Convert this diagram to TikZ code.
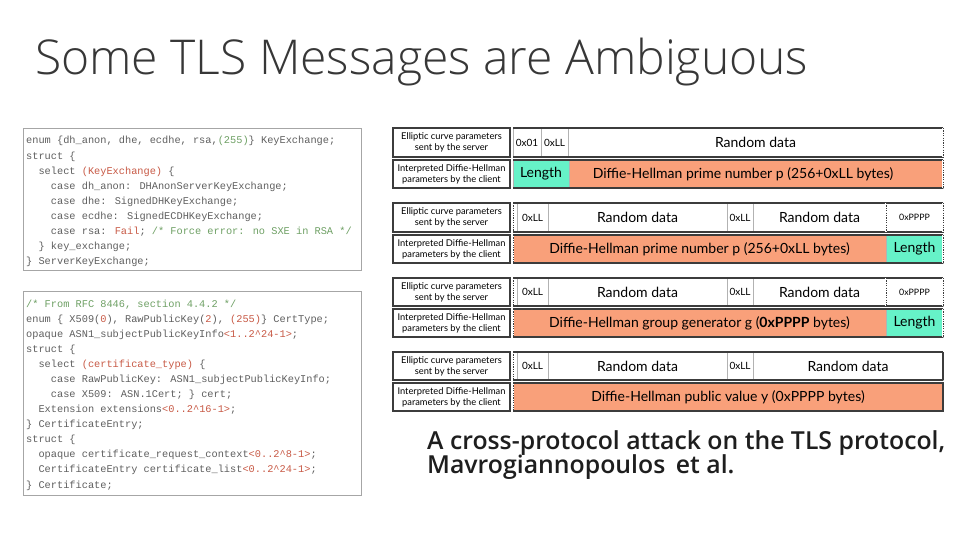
\documentclass[tikz,border=0pt]{standalone}
\usepackage{fontspec}
\setmainfont{Lato}
\newfontfamily\codefont{Liberation Mono}
\IfFontExistsTF{Open Sans Light}{\newfontfamily\titlefont{Open Sans Light}}{\newfontfamily\titlefont{Open Sans}}
\IfFontExistsTF{Open Sans SemiBold}{\newfontfamily\citefont{Open Sans SemiBold}}{%
  \IfFontExistsTF{Open Sans Semibold}{\newfontfamily\citefont{Open Sans Semibold}}{\newfontfamily\citefont{Open Sans}}}
\definecolor{dhorange}{RGB}{249,160,122}
\definecolor{dhgreen}{RGB}{102,242,200}
\definecolor{codetxt}{RGB}{95,95,95}
\definecolor{codered}{RGB}{200,90,70}
\definecolor{codegreen}{RGB}{110,160,100}
\definecolor{edgedark}{RGB}{60,60,60}
\newcommand\cR[1]{\textcolor{codered}{#1}}
\newcommand\cG[1]{\textcolor{codegreen}{#1}}
\newcommand\ia{\hspace*{12.36pt}}
\newcommand\ib{\hspace*{24.72pt}}
\newcommand\cellbox[7]{%
  \node[#6, anchor=north west, minimum width={(#3-#2)*1pt}, minimum height={(#5-#4)*1pt}] (#1) at (#2,#4) {#7};}
\tikzset{
  lbl/.style={draw=edgedark, line width=1.3pt, fill=white, inner sep=0pt, outer sep=0pt, align=center,
    font=\fontsize{9.3}{11}\selectfont},
  cw/.style={draw=gray!60, line width=0.6pt, fill=white, inner sep=0pt, outer sep=0pt},
  co/.style={cw, fill=dhorange},
  cg/.style={cw, fill=dhgreen},
  big/.style={font=\fontsize{14}{16}\selectfont},
  small/.style={font=\fontsize{10}{12}\selectfont},
  tiny/.style={font=\fontsize{8.8}{10}\selectfont},
  rowedge/.style={draw=edgedark, line width=1.1pt},
  dotedge/.style={draw=edgedark, line width=0.9pt, dash pattern=on 1.2pt off 1.2pt},
  whiteedge/.style={draw=white, line width=1.4pt},
  codeline/.style={anchor=base west, inner sep=0pt, text=codetxt, font=\codefont\fontsize{10.3}{12}\selectfont},
  codebox/.style={draw=gray!70, line width=0.8pt, fill=white},
}
\begin{document}
\begin{tikzpicture}[x=1pt,y=-1pt]
\path[fill=white,use as bounding box] (0,0) rectangle (960,540);

% Title
\node[anchor=base west, inner sep=0pt, text={rgb,255:red,55;green,55;blue,55}, font=\titlefont\fontsize{48}{50}\selectfont] (title) at (35,75) {Some TLS Messages are Ambiguous};

% Code block 1
\node[codebox, anchor=north west, minimum width=338pt, minimum height=142pt, inner sep=0pt] (box1) at (23,128) {};
\node[codeline] (a1) at (26,144.0) {enum \{dh\_anon, dhe, ecdhe, rsa,\cG{(255)}\} KeyExchange;};
\node[codeline] (a2) at (26,159.1) {struct \{};
\node[codeline] (a3) at (26,174.2) {\ia select \cR{(KeyExchange)} \{};
\node[codeline] (a4) at (26,189.3) {\ib case dh\_anon: DHAnonServerKeyExchange;};
\node[codeline] (a5) at (26,204.4) {\ib case dhe: SignedDHKeyExchange;};
\node[codeline] (a6) at (26,219.5) {\ib case ecdhe: SignedECDHKeyExchange;};
\node[codeline] (a7) at (26,234.6) {\ib case rsa: \cR{Fail}; \cG{/* Force error: no SXE in RSA */}};
\node[codeline] (a8) at (26,249.7) {\ia \} key\_exchange;};
\node[codeline] (a9) at (26,264.8) {\} ServerKeyExchange;};

% Code block 2
\node[codebox, anchor=north west, minimum width=338pt, minimum height=204pt, inner sep=0pt] (box2) at (23,291) {};
\node[codeline] (b1) at (26,307.0) {\cG{/* From RFC 8446, section 4.4.2 */}};
\node[codeline] (b2) at (26,322.1) {enum \{ X509(\cR{0}), RawPublicKey(\cR{2}), \cR{(255)}\} CertType;};
\node[codeline] (b3) at (26,337.2) {opaque ASN1\_subjectPublicKeyInfo\cR{<1..2\textasciicircum24-1>};};
\node[codeline] (b4) at (26,352.2) {struct \{};
\node[codeline] (b5) at (26,367.3) {\ia select \cR{(certificate\_type)} \{};
\node[codeline] (b6) at (26,382.4) {\ib case RawPublicKey: ASN1\_subjectPublicKeyInfo;};
\node[codeline] (b7) at (26,397.5) {\ib case X509: ASN.1Cert; \} cert;};
\node[codeline] (b8) at (26,412.6) {\ia Extension extensions\cR{<0..2\textasciicircum16-1>};};
\node[codeline] (b9) at (26,427.6) {\} CertificateEntry;};
\node[codeline] (b10) at (26,442.7) {struct \{};
\node[codeline] (b11) at (26,457.8) {\ia opaque certificate\_request\_context\cR{<0..2\textasciicircum8-1>};};
\node[codeline] (b12) at (26,472.9) {\ia CertificateEntry certificate\_list\cR{<0..2\textasciicircum24-1>};};
\node[codeline] (b13) at (26,488.0) {\} Certificate;};

% ---------- Diagram pair 1 ----------
\cellbox{l1}{393}{510}{128}{157}{lbl}{Elliptic curve parameters\\sent by the server}
\cellbox{r1a}{513}{541}{128}{157}{cw,small}{0x01}
\cellbox{r1b}{541}{568}{128}{157}{cw,small}{0xLL}
\cellbox{r1c}{568}{943}{128}{157}{cw,big}{Random data}
\draw[rowedge] (r1a.north west) -- (r1c.north east);
\draw[rowedge] (r1a.south west) -- (r1c.south east);
\draw[whiteedge] (r1c.north east) -- (r1c.south east);
\draw[dotedge] (r1c.north east) -- (r1c.south east);

\cellbox{l2}{393}{510}{160}{188}{lbl}{Interpreted Diffie-Hellman\\parameters by the client}
\cellbox{r2a}{513}{569}{160}{188}{cg,big}{Length}
\cellbox{r2b}{569}{943}{160}{188}{co,big}{\hspace*{-26pt}Diffie-Hellman prime number p (256+0xLL bytes)}
\draw[rowedge] (r2a.north west) -- (r2b.north east);
\draw[rowedge] (r2a.south west) -- (r2b.south east);
\draw[whiteedge] (r2b.north east) -- (r2b.south east);
\draw[dotedge] (r2b.north east) -- (r2b.south east);

% ---------- Diagram pair 2 ----------
\cellbox{l3}{393}{510}{203}{232}{lbl}{Elliptic curve parameters\\sent by the server}
\coordinate (s3t) at (513,203); \coordinate (s3b) at (513,232);
\cellbox{r3a}{517}{548}{203}{232}{cw,small}{0xLL}
\cellbox{r3b}{548}{727}{203}{232}{cw,big}{Random data}
\cellbox{r3c}{727}{753}{203}{232}{cw,small}{0xLL}
\cellbox{r3d}{753}{886}{203}{232}{cw,big}{Random data}
\cellbox{r3e}{886}{943}{203}{232}{cw,tiny}{0xPPPP}
\draw[rowedge] (s3t) -- (r3e.north east);
\draw[rowedge] (s3b) -- (r3e.south east);
\draw[dotedge] (s3t) -- (s3b);
\draw[whiteedge] (r3e.north west) -- (r3e.south west);
\draw[dotedge] (r3e.north west) -- (r3e.south west);
\draw[whiteedge] (r3e.north east) -- (r3e.south east);
\draw[dotedge] (r3e.north east) -- (r3e.south east);

\cellbox{l4}{393}{510}{235}{263}{lbl}{Interpreted Diffie-Hellman\\parameters by the client}
\cellbox{r4a}{513}{886}{235}{263}{co,big}{Diffie-Hellman prime number p (256+0xLL bytes)}
\cellbox{r4b}{886}{943}{235}{263}{cg,big}{Length}
\draw[rowedge] (r4a.north west) -- (r4b.north east);
\draw[rowedge] (r4a.south west) -- (r4b.south east);
\draw[whiteedge] (r4a.north west) -- (r4a.south west);
\draw[dotedge] (r4a.north west) -- (r4a.south west);
\draw[whiteedge] (r4b.north east) -- (r4b.south east);
\draw[dotedge] (r4b.north east) -- (r4b.south east);

% ---------- Diagram pair 3 ----------
\cellbox{l5}{393}{510}{278}{306}{lbl}{Elliptic curve parameters\\sent by the server}
\coordinate (s5t) at (513,278); \coordinate (s5b) at (513,306);
\cellbox{r5a}{517}{548}{278}{306}{cw,small}{0xLL}
\cellbox{r5b}{548}{727}{278}{306}{cw,big}{Random data}
\cellbox{r5c}{727}{753}{278}{306}{cw,small}{0xLL}
\cellbox{r5d}{753}{886}{278}{306}{cw,big}{Random data}
\cellbox{r5e}{886}{943}{278}{306}{cw,tiny}{0xPPPP}
\draw[rowedge] (s5t) -- (r5e.north east);
\draw[rowedge] (s5b) -- (r5e.south east);
\draw[dotedge] (s5t) -- (s5b);
\draw[whiteedge] (r5e.north west) -- (r5e.south west);
\draw[dotedge] (r5e.north west) -- (r5e.south west);
\draw[whiteedge] (r5e.north east) -- (r5e.south east);
\draw[dotedge] (r5e.north east) -- (r5e.south east);

\cellbox{l6}{393}{510}{309}{337}{lbl}{Interpreted Diffie-Hellman\\parameters by the client}
\cellbox{r6a}{513}{886}{309}{337}{co,big}{Diffie-Hellman group generator g (\textbf{0xPPPP} bytes)}
\cellbox{r6b}{886}{943}{309}{337}{cg,big}{Length}
\draw[rowedge] (r6a.north west) -- (r6b.north east);
\draw[rowedge] (r6a.south west) -- (r6b.south east);
\draw[whiteedge] (r6a.north west) -- (r6a.south west);
\draw[dotedge] (r6a.north west) -- (r6a.south west);
\draw[whiteedge] (r6b.north east) -- (r6b.south east);
\draw[dotedge] (r6b.north east) -- (r6b.south east);

% ---------- Diagram pair 4 ----------
\cellbox{l7}{393}{510}{352}{380}{lbl}{Elliptic curve parameters\\sent by the server}
\coordinate (s7t) at (513,352); \coordinate (s7b) at (513,380);
\cellbox{r7a}{517}{548}{352}{380}{cw,small}{0xLL}
\cellbox{r7b}{548}{727}{352}{380}{cw,big}{Random data}
\cellbox{r7c}{727}{753}{352}{380}{cw,small}{0xLL}
\cellbox{r7d}{753}{943}{352}{380}{cw,big}{Random data}
\draw[rowedge] (s7t) -- (r7d.north east);
\draw[rowedge] (s7b) -- (r7d.south east);
\draw[rowedge] (r7d.north east) -- (r7d.south east);
\draw[dotedge] (s7t) -- (s7b);

\cellbox{l8}{393}{510}{383}{411}{lbl}{Interpreted Diffie-Hellman\\parameters by the client}
\cellbox{r8a}{513}{943}{383}{411}{co,big}{Diffie-Hellman public value y (0xPPPP bytes)}
\draw[rowedge] (r8a.north west) -- (r8a.north east) -- (r8a.south east) -- (r8a.south west);
\draw[whiteedge] (r8a.north west) -- (r8a.south west);
\draw[dotedge] (r8a.north west) -- (r8a.south west);

% Citation
\node[anchor=base west, inner sep=0pt, text={rgb,255:red,30;green,30;blue,30}, font=\citefont\fontsize{24.8}{26}\selectfont] (cite1) at (427,449) {A cross-protocol attack on the TLS protocol,};
\node[anchor=base west, inner sep=0pt, text={rgb,255:red,30;green,30;blue,30}, font=\citefont\fontsize{24.8}{26}\selectfont] (cite2) at (427,473) {Mavrogiannopoulos\, et al.};
\end{tikzpicture}
\end{document}
